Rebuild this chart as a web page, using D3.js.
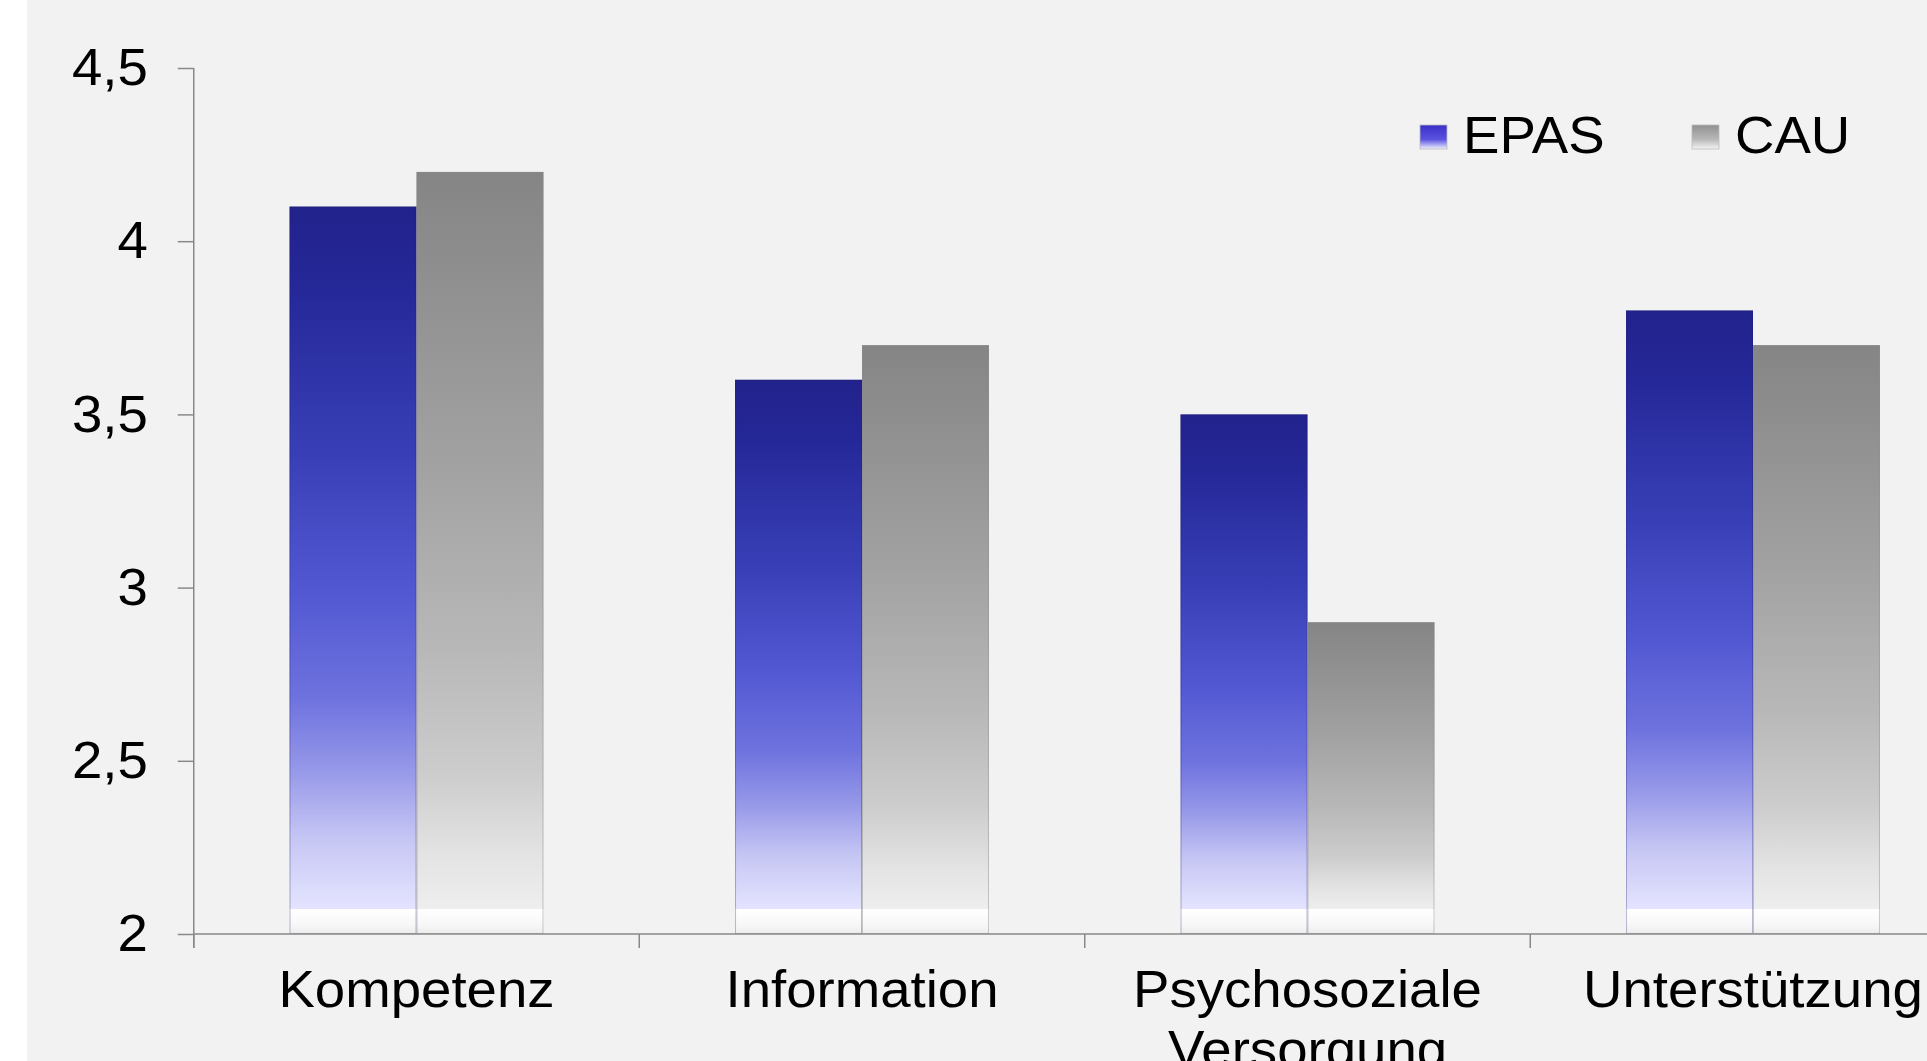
<!DOCTYPE html>
<html>
<head>
<meta charset="utf-8">
<script src="https://cdn.jsdelivr.net/npm/d3@7"></script>
<style>
  html, body { margin: 0; padding: 0; background: #ffffff; overflow: hidden; }
  text { font-family: "Liberation Sans", Arial, sans-serif; fill: #000; }
</style>
</head>
<body>
<svg id="chart" width="1927" height="1061"></svg>
<script>
// ---- data ----
const categories = [["Kompetenz"], ["Information"], ["Psychosoziale", "Versorgung"], ["Unterstützung"]];
const seriesNames = ["EPAS", "CAU"];
const epasValues = [4.1, 3.6, 3.5, 3.8];
const cauValues = [4.2, 3.7, 2.9, 3.7];
const yTicks = [2, 2.5, 3, 3.5, 4, 4.5];
const yTickLabels = ["2", "2,5", "3", "3,5", "4", "4,5"];

// ---- layout ----
const W = 1927, H = 1061;
const axisX = 193.75, axisTop = 68, axisBottom = 934;
const step = 445.5;
const fontSize = 52;
const stretch = 1.05;
const tickLen = 16, tickPad = 30;

const svg = d3.select("#chart");
const defs = svg.append("defs");

// background
svg.append("rect").attr("x", 27).attr("y", 0).attr("width", W - 27).attr("height", H).attr("fill", "#f2f2f2");

// scales
const catKeys = categories.map((c, i) => "c" + i);
const x = d3.scaleBand().domain(catKeys).range([axisX, axisX + step * categories.length])
  .paddingInner(0.43).paddingOuter(0.215);
const xs = d3.scaleBand().domain(seriesNames).range([0, x.bandwidth()]);
const y = d3.scaleLinear().domain([2, 4.5]).range([axisBottom, axisTop]);

// gradients
function grad(id, stops) {
  const g = defs.append("linearGradient").attr("id", id)
    .attr("x1", 0).attr("y1", 0).attr("x2", 0).attr("y2", 1);
  stops.forEach(s => g.append("stop").attr("offset", s[0]).attr("stop-color", s[1]));
}
grad("gEPAS", [[0, "#22228c"], [0.12, "#252898"], [0.35, "#383fb6"], [0.55, "#5258d2"], [0.7, "#6e72de"], [0.8, "#9597e8"], [0.9, "#c6c6f4"], [1, "#e4e4ff"]]);
grad("gCAU", [[0, "#858585"], [0.1, "#8c8c8c"], [0.4, "#a2a2a2"], [0.65, "#b8b8b8"], [0.82, "#cdcdcd"], [0.93, "#e4e4e4"], [1, "#eeeeee"]]);
grad("gEPASleg", [[0, "#3a30c8"], [0.6, "#5a52e0"], [1, "#f0f0ff"]]);
grad("gCAUleg", [[0, "#909090"], [0.6, "#b8b8b8"], [1, "#f4f4f4"]]);
grad("gStrip", [[0, "#ffffff"], [0.6, "#f8f8f8"], [1, "#ececec"]]);
const fills = { EPAS: "url(#gEPAS)", CAU: "url(#gCAU)" };
const legFills = { EPAS: "url(#gEPASleg)", CAU: "url(#gCAUleg)" };

// bars
const rows = categories.map((c, i) => ({ key: catKeys[i], vals: [
  { s: "EPAS", v: epasValues[i] }, { s: "CAU", v: cauValues[i] } ] }));

const groups = svg.append("g").selectAll("g").data(rows).join("g")
  .attr("transform", d => `translate(${x(d.key)},0)`);

const bottomStrip = 25;
groups.selectAll("rect.bar").data(d => d.vals).join("rect")
  .attr("class", "bar")
  .attr("x", d => xs(d.s))
  .attr("y", d => y(d.v))
  .attr("width", xs.bandwidth())
  .attr("height", d => y(2) - y(d.v) - bottomStrip)
  .attr("fill", d => fills[d.s]);

// white bottom glossy strip
groups.append("rect")
  .attr("x", 0).attr("y", y(2) - bottomStrip)
  .attr("width", x.bandwidth()).attr("height", bottomStrip)
  .attr("fill", "url(#gStrip)");
// light outline
groups.selectAll("rect.edge").data(d => d.vals).join("rect")
  .attr("class", "edge")
  .attr("x", d => xs(d.s) + 0.5)
  .attr("y", d => y(d.v) + 0.5)
  .attr("width", xs.bandwidth() - 1)
  .attr("height", d => y(2) - y(d.v) - 1)
  .attr("fill", "none")
  .attr("stroke", d => d.s === "EPAS" ? "rgba(30,30,110,0.3)" : "rgba(140,140,140,0.45)")
  .attr("stroke-width", 1);

// axes
const axisColor = "#888888";
const yAxis = d3.axisLeft(y).tickValues(yTicks).tickSize(tickLen).tickPadding(tickPad)
  .tickFormat((d, i) => yTickLabels[i]);
const yg = svg.append("g").attr("transform", `translate(${axisX},0)`).call(yAxis);
yg.select(".domain").attr("stroke", axisColor).attr("stroke-width", 1.5)
  .attr("d", `M0,${axisTop}V${axisBottom + 14}`);
yg.selectAll(".tick line").attr("stroke", axisColor).attr("stroke-width", 1.5);
const anchorX = -(tickLen + tickPad);
yg.selectAll(".tick text").style("font-size", fontSize + "px")
  .style("font-family", '"Liberation Sans", Arial, sans-serif').attr("fill", "#000")
  .attr("transform", `translate(${anchorX},0) scale(${stretch},1) translate(${-anchorX},0)`);

// x axis
svg.append("line").attr("x1", axisX).attr("x2", W).attr("y1", y(2)).attr("y2", y(2))
  .attr("stroke", axisColor).attr("stroke-width", 1.5);
const bounds = d3.range(categories.length + 1).map(i => axisX + i * x.step());
svg.append("g").selectAll("line").data(bounds).join("line")
  .attr("x1", d => d).attr("x2", d => d).attr("y1", y(2)).attr("y2", y(2) + 14)
  .attr("stroke", axisColor).attr("stroke-width", 1.5);

// x labels
const lblG = svg.append("g").selectAll("g").data(rows).join("g")
  .attr("transform", d => `translate(${x(d.key) + x.bandwidth() / 2},1007) scale(${stretch},1)`);
const lbl = lblG.append("text").attr("text-anchor", "middle").style("font-size", fontSize + "px");
lbl.selectAll("tspan").data((d, i) => categories[i]).join("tspan")
  .attr("x", 0)
  .attr("dy", (d, i) => i === 0 ? 0 : 60)
  .text(d => d);

// legend
const legendPos = [{ s: "EPAS", sx: 1420, tx: 1463 }, { s: "CAU", sx: 1692, tx: 1735 }];
const leg = svg.append("g").selectAll("g").data(legendPos).join("g");
leg.append("rect").attr("x", d => d.sx).attr("y", 125).attr("width", 27).attr("height", 24)
  .attr("fill", d => legFills[d.s]).attr("stroke", "#bbbbbb").attr("stroke-width", 0.8);
leg.append("text").attr("transform", d => `translate(${d.tx},153) scale(${stretch},1)`)
  .style("font-size", fontSize + "px")
  .text(d => d.s);
</script>
</body>
</html>
